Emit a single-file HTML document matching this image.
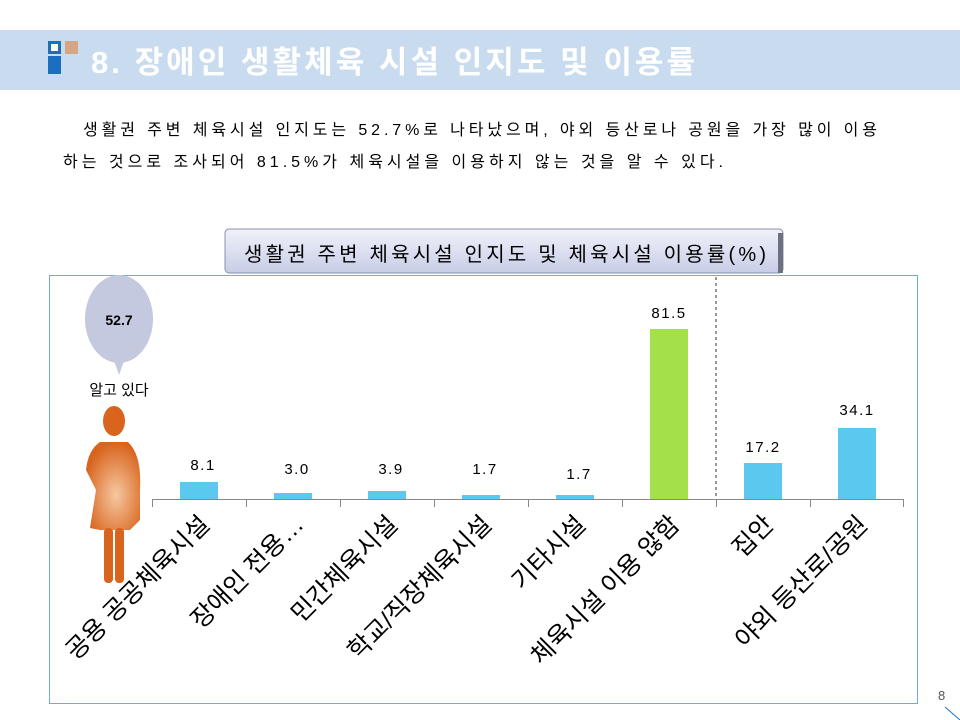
<!DOCTYPE html>
<html><head><meta charset="utf-8"><style>
html,body{margin:0;padding:0;background:#fff;}
body{width:960px;height:720px;position:relative;overflow:hidden;font-family:"Liberation Sans","Noto Sans CJK KR",sans-serif;}
</style></head><body>
<svg width="960" height="720" viewBox="0 0 960 720" xmlns="http://www.w3.org/2000/svg" style="position:absolute;left:0;top:0">
<defs>
<linearGradient id="tb" x1="0" y1="0" x2="0" y2="1"><stop offset="0" stop-color="#f0f2fa"/><stop offset="1" stop-color="#c8cde6"/></linearGradient>
<radialGradient id="wg" cx="0.55" cy="0.6" r="0.6"><stop offset="0" stop-color="#f6c8a0"/><stop offset="1" stop-color="#d8641e"/></radialGradient>
</defs>
<rect x="0" y="30" width="960" height="60" fill="#c9dcef"/>
<rect x="48" y="41" width="13" height="13" fill="#1a6fc0"/>
<rect x="51" y="44" width="7" height="7" fill="#fff"/>
<rect x="48" y="56" width="13" height="18" fill="#1a6fc0"/>
<rect x="65" y="41" width="13" height="13" fill="#d4a684"/>
<text x="91" y="73" font-size="31" font-weight="bold" fill="#fff" textLength="604" lengthAdjust="spacing" font-family="Liberation Sans,Noto Sans CJK KR,sans-serif">8. 장애인 생활체육 시설 인지도 및 이용률</text>
<text x="83" y="135" font-size="16" fill="#000" textLength="794" lengthAdjust="spacing" font-family="Liberation Sans,Noto Sans CJK KR,sans-serif">생활권 주변 체육시설 인지도는 52.7%로 나타났으며, 야외 등산로나 공원을 가장 많이 이용</text>
<text x="63" y="167" font-size="16" fill="#000" textLength="660" lengthAdjust="spacing" font-family="Liberation Sans,Noto Sans CJK KR,sans-serif">하는 것으로 조사되어 81.5%가 체육시설을 이용하지 않는 것을 알 수 있다.</text>

<rect x="49.5" y="275.5" width="868" height="428" fill="#fff" stroke="#6aaee0" stroke-width="1"/>
<rect x="225" y="229" width="558" height="44" rx="4" fill="url(#tb)" stroke="#8a8fa8"/>
<rect x="778" y="233" width="5" height="40" fill="#6c7080"/>
<text x="244" y="261" font-size="20" fill="#000" textLength="522" lengthAdjust="spacing" font-family="Liberation Sans,Noto Sans CJK KR,sans-serif">생활권 주변 체육시설 인지도 및 체육시설 이용률(%)</text>

<line x1="716" y1="277" x2="716" y2="499" stroke="#333" stroke-dasharray="3,3"/>
<line x1="152" y1="499.5" x2="903" y2="499.5" stroke="#888"/>
<g stroke="#888">
<line x1="152.5" y1="499" x2="152.5" y2="507"/><line x1="246.5" y1="499" x2="246.5" y2="507"/><line x1="340.5" y1="499" x2="340.5" y2="507"/><line x1="434.5" y1="499" x2="434.5" y2="507"/><line x1="528.5" y1="499" x2="528.5" y2="507"/><line x1="622.5" y1="499" x2="622.5" y2="507"/><line x1="716.5" y1="499" x2="716.5" y2="507"/><line x1="810.5" y1="499" x2="810.5" y2="507"/><line x1="903.5" y1="499" x2="903.5" y2="507"/>
</g>
<g fill="#5bc8ef">
<rect x="180" y="482" width="38" height="17"/>
<rect x="274" y="493" width="38" height="6"/>
<rect x="368" y="491" width="38" height="8"/>
<rect x="462" y="495" width="38" height="4"/>
<rect x="556" y="495" width="38" height="4"/>
<rect x="744" y="463" width="38" height="36"/>
<rect x="838" y="428" width="38" height="71"/>
</g>
<rect x="650" y="329" width="38" height="170" fill="#a4e04a"/>
<g font-size="15" text-anchor="middle" fill="#000" letter-spacing="1.5" font-family="Liberation Sans,sans-serif">
<text x="203" y="470">8.1</text><text x="297" y="474">3.0</text><text x="391" y="474">3.9</text><text x="485" y="474">1.7</text><text x="579" y="479">1.7</text><text x="669" y="318">81.5</text><text x="763" y="452">17.2</text><text x="857" y="415">34.1</text>
</g>
<g font-size="25" text-anchor="end" fill="#000" font-family="Liberation Sans,Noto Sans CJK KR,sans-serif">
<text transform="translate(211,526) rotate(-45)">공용 공공체육시설</text>
<text transform="translate(305,526) rotate(-45)">장애인 전용…</text>
<text transform="translate(399,526) rotate(-45)">민간체육시설</text>
<text transform="translate(493,526) rotate(-45)">학교/직장체육시설</text>
<text transform="translate(587,526) rotate(-45)">기타시설</text>
<text transform="translate(681,526) rotate(-45)">체육시설 이용 않함</text>
<text transform="translate(775,526) rotate(-45)">집안</text>
<text transform="translate(869,526) rotate(-45)">야외 등산로/공원</text>
</g>

<ellipse cx="119" cy="319" rx="34" ry="44" fill="#c5c9e0"/>
<polygon points="112,355 126,355 119,375" fill="#c5c9e0"/>
<text x="119" y="325" font-size="14" font-weight="bold" text-anchor="middle" fill="#000">52.7</text>
<text x="119" y="395" font-size="15" text-anchor="middle" fill="#000" font-family="Liberation Sans,Noto Sans CJK KR,sans-serif">알고 있다</text>
<ellipse cx="114" cy="421" rx="11" ry="15" fill="#d8641e"/>
<path d="M100,442 L128,442 Q142,455 140,490 L140,520 L130,530 L100,530 L90,528 L96,490 L86,470 Q88,450 100,442 Z" fill="url(#wg)"/>
<rect x="104" y="528" width="9" height="55" rx="4" fill="#d8641e"/>
<rect x="115" y="528" width="9" height="55" rx="4" fill="#d8641e"/>

<text x="938" y="700" font-size="13" fill="#555">8</text>
<line x1="945" y1="707" x2="960" y2="720" stroke="#1a6fc0"/>
</svg>
</body></html>
